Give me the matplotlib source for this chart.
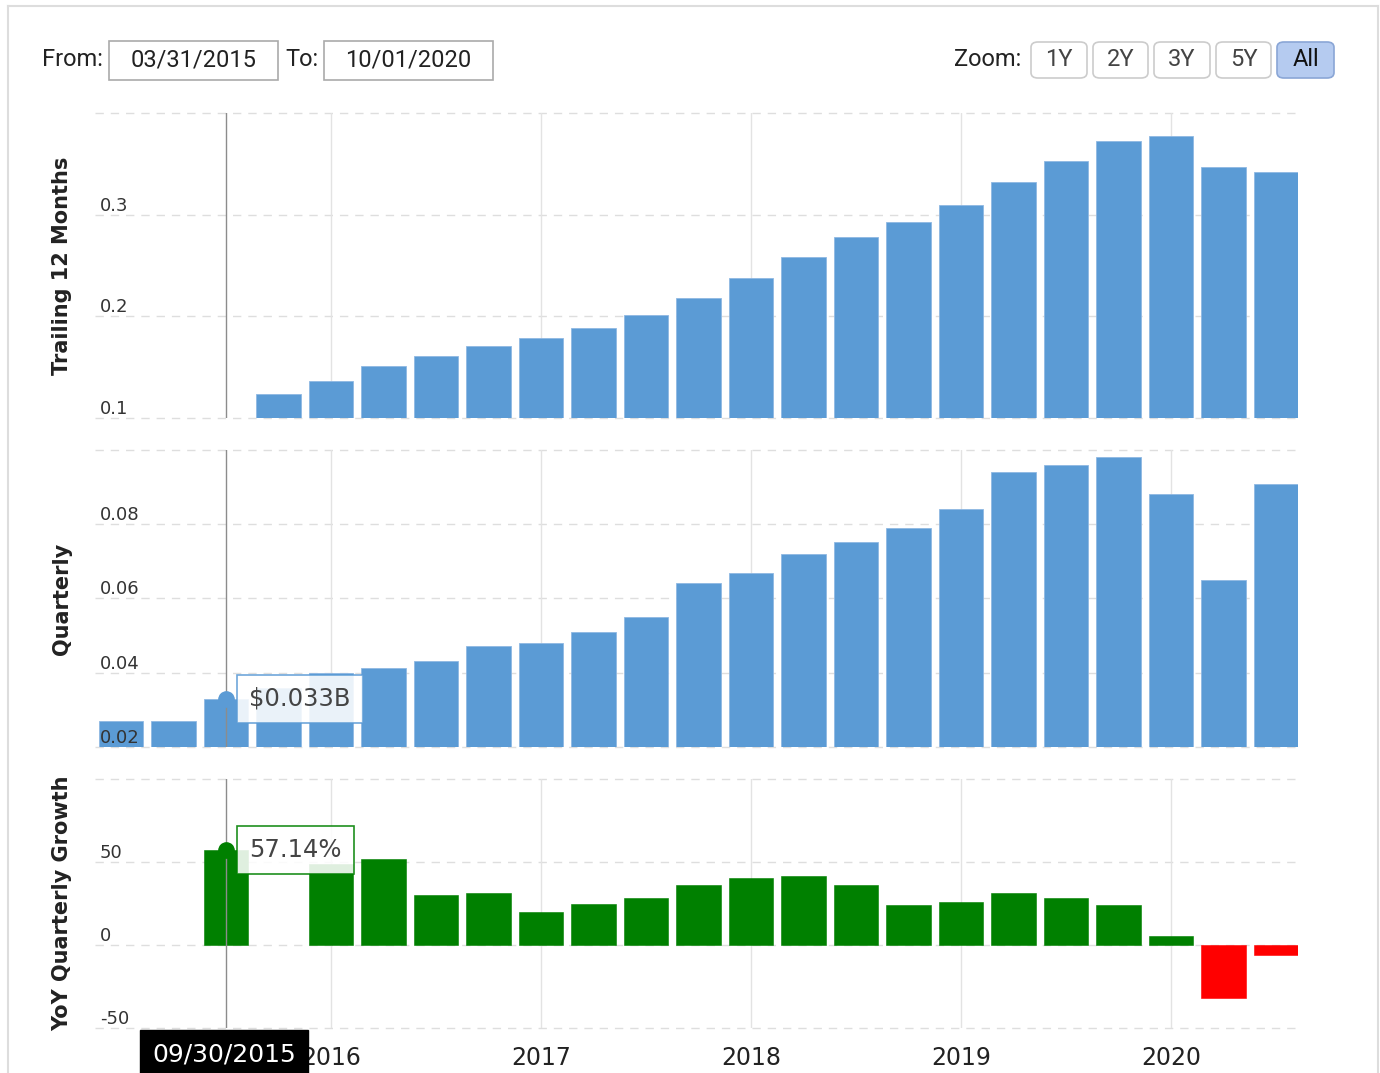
import matplotlib
matplotlib.use('Agg')
import matplotlib.pyplot as plt
from matplotlib.patches import Rectangle, FancyBboxPatch
from matplotlib.lines import Line2D
import matplotlib.transforms as mtransforms

# ---------------- data ----------------
quarters = ['03/31/2015', '06/30/2015', '09/30/2015', '12/31/2015',
            '03/31/2016', '06/30/2016', '09/30/2016', '12/31/2016',
            '03/31/2017', '06/30/2017', '09/30/2017', '12/31/2017',
            '03/31/2018', '06/30/2018', '09/30/2018', '12/31/2018',
            '03/31/2019', '06/30/2019', '09/30/2019', '12/31/2019',
            '03/31/2020', '06/30/2020', '09/30/2020']

ttm = [None, None, None, 0.124, 0.136, 0.151, 0.161, 0.171, 0.179, 0.189,
       0.201, 0.218, 0.238, 0.258, 0.278, 0.293, 0.310, 0.332, 0.353, 0.372,
       0.377, 0.347, 0.342]

quarterly = [0.0269, 0.0269, 0.033, 0.036, 0.0398, 0.0413, 0.0431, 0.0472,
             0.0481, 0.0509, 0.0550, 0.0642, 0.0670, 0.0720, 0.0753, 0.0789,
             0.0840, 0.0940, 0.0959, 0.0982, 0.0881, 0.0651, 0.0909]

yoy = [None, None, 57.14, None, 48.5, 52.0, 30.3, 31.3, 19.8, 24.8, 28.1,
       36.1, 40.4, 41.4, 36.1, 23.8, 25.8, 31.1, 28.1, 23.8, 5.2, -31.7, -5.9]

year_labels = ['2016', '2017', '2018', '2019', '2020']

ttm_ticks = [0.1, 0.2, 0.3, 0.4]
ttm_tick_labels = ['0.1', '0.2', '0.3', '']
q_ticks = [0.02, 0.04, 0.06, 0.08, 0.1]
q_tick_labels = ['0.02', '0.04', '0.06', '0.08', '']
yoy_ticks = [-50, 0, 50, 100]
yoy_tick_labels = ['-50', '0', '50', '']

hover_date = '09/30/2015'
from_date = '03/31/2015'
to_date = '10/01/2020'
zoom_buttons = ['1Y', '2Y', '3Y', '5Y', 'All']

# ---------------- style ----------------
W, H, DPI = 1380, 1073, 100
BLUE = '#5b9bd5'
GREEN = '#008000'
RED = '#ff0000'
GRID = '#dedede'
VGRID = '#e3e3e3'
CROSS = '#8c8c8c'
TXT = '#333333'
BAR_W = 0.84

fig = plt.figure(figsize=(W / DPI, H / DPI), dpi=DPI)
fig.patch.set_facecolor('white')


def fx(x):
    return x / W


def fy(y):
    return 1 - y / H


def add_axes_px(left, top, right, bottom):
    return fig.add_axes([fx(left), fy(bottom), fx(right) - fx(left), (bottom - top) / H])


x_idx = list(range(len(quarters)))
year_pos = [quarters.index('03/31/' + y) for y in year_labels]
hover_i = quarters.index(hover_date)

XMIN, XMAX = -0.495, 22.42

ax1 = add_axes_px(95, 113, 1298, 418)
ax2 = add_axes_px(95, 450, 1298, 747)
ax3 = add_axes_px(95, 779, 1298, 1028)


def style_axes(ax, ticks, labels, ylim, title):
    ax.set_xlim(XMIN, XMAX)
    ax.set_ylim(*ylim)
    for s in ax.spines.values():
        s.set_visible(False)
    ax.set_yticks([])
    ax.set_xticks([])
    for t in ticks:
        ax.axhline(t, color=GRID, lw=1.0, dashes=(6, 5), zorder=0.5, clip_on=False)
    for xp in year_pos:
        ax.axvline(xp, color=VGRID, lw=1.0, zorder=0.6)
    ax.axvline(hover_i, color=CROSS, lw=1.0, zorder=4)
    trans = mtransforms.blended_transform_factory(ax.transAxes, ax.transData)
    for t, lab in zip(ticks, labels):
        if lab:
            ax.annotate(lab, xy=(0.004, t), xycoords=trans, xytext=(0, 4),
                        textcoords='offset pixels', ha='left', va='baseline',
                        fontsize=13, color=TXT, family='DejaVu Sans', zorder=6,
                        annotation_clip=False)
    ax.text(-0.0275, 0.5, title, transform=ax.transAxes, rotation=90,
            ha='center', va='center', fontsize=15, fontweight='bold',
            color='#222222', family='DejaVu Sans')


style_axes(ax1, ttm_ticks, ttm_tick_labels, (0.1, 0.4), 'Trailing 12 Months')
style_axes(ax2, q_ticks, q_tick_labels, (0.02, 0.1), 'Quarterly')
style_axes(ax3, yoy_ticks, yoy_tick_labels, (-50, 100), 'YoY Quarterly Growth')

# bars
tx = [i for i, v in zip(x_idx, ttm) if v is not None]
tv = [v for v in ttm if v is not None]
ax1.bar(tx, tv, width=BAR_W, color=BLUE, edgecolor='#8fb8e3', linewidth=0.6, zorder=2)

ax2.bar(x_idx, quarterly, width=BAR_W, color=BLUE, edgecolor='#8fb8e3', linewidth=0.6, zorder=2)

yx = [i for i, v in zip(x_idx, yoy) if v is not None]
yv = [v for v in yoy if v is not None]
ycol = [GREEN if v >= 0 else RED for v in yv]
ax3.bar(yx, yv, width=BAR_W, color=ycol, edgecolor=ycol, linewidth=0.4, zorder=2)

# x tick labels (year)
ax3.set_xticks(year_pos)
ax3.set_xticklabels(year_labels, fontsize=17, color='#222222', family='DejaVu Sans')
ax3.tick_params(axis='x', length=0, pad=13)

# tooltips
ax2.plot([hover_i], [quarterly[hover_i]], 'o', ms=11, color=BLUE, zorder=7, clip_on=False)
ax2.annotate('$%.3fB' % quarterly[hover_i], xy=(hover_i, quarterly[hover_i]),
             xytext=(23, 0), textcoords='offset pixels', ha='left', va='center',
             fontsize=17.5, color='#444444', family='DejaVu Sans', zorder=8,
             bbox=dict(boxstyle='square,pad=0.5', fc='white', ec=BLUE, lw=1.2, alpha=0.88),
             annotation_clip=False)

ax3.plot([hover_i], [yoy[hover_i]], 'o', ms=11, color=GREEN, zorder=7, clip_on=False)
ax3.annotate('%.2f%%' % yoy[hover_i], xy=(hover_i, yoy[hover_i]),
             xytext=(23, 0), textcoords='offset pixels', ha='left', va='center',
             fontsize=17.5, color='#444444', family='DejaVu Sans', zorder=8,
             bbox=dict(boxstyle='square,pad=0.5', fc='white', ec=GREEN, lw=1.2, alpha=0.88),
             annotation_clip=False)

ax3.annotate(hover_date, xy=(hover_i, 0), xycoords=('data', 'axes fraction'),
             xytext=(-2, -26), textcoords='offset pixels', ha='center', va='center',
             fontsize=18, color='white', family='DejaVu Sans', zorder=9,
             bbox=dict(boxstyle='square,pad=0.5', fc='black', ec='black'),
             annotation_clip=False)

# ---------------- header ----------------
HF = 'Roboto'
fig.text(fx(42), fy(60), 'From:', ha='left', va='center', fontsize=17, family=HF, color='#222222')
fig.text(fx(285), fy(60), 'To:', ha='left', va='center', fontsize=17, family=HF, color='#222222')
for (l, r, txt) in [(109, 278, from_date), (324, 493, to_date)]:
    fig.patches.append(Rectangle((fx(l), fy(80)), fx(r) - fx(l), (80 - 41) / H,
                                 transform=fig.transFigure, fc='white', ec='#aaaaaa', lw=1.2))
    fig.text(fx((l + r) / 2), fy(60), txt, ha='center', va='center', fontsize=17,
             family=HF, color='#222222')

fig.text(fx(1021), fy(60), 'Zoom:', ha='right', va='center', fontsize=17, family=HF, color='#222222')
btn_l = [1031, 1093, 1154, 1216, 1277]
btn_r = [1087, 1148, 1210, 1271, 1334]
for l, r, txt in zip(btn_l, btn_r, zoom_buttons):
    active = (txt == 'All')
    fig.patches.append(FancyBboxPatch((fx(l), fy(78)), fx(r) - fx(l), (78 - 42) / H,
                                      boxstyle='round,pad=0,rounding_size=0.005',
                                      transform=fig.transFigure,
                                      fc='#b5cbf0' if active else 'white',
                                      ec='#8aa6d6' if active else '#cccccc', lw=1.2))
    fig.text(fx((l + r) / 2), fy(60), txt, ha='center', va='center', fontsize=17,
             family=HF, color='#111111' if active else '#444444')

# outer frame
for xs, ys in [([8, 8], [6, H]), ([8, 1378], [6, 6]), ([1378, 1378], [6, H])]:
    fig.lines.append(Line2D([fx(x) for x in xs], [fy(y) for y in ys],
                            transform=fig.transFigure, color='#dddddd', lw=1.5))

fig.savefig('out.png', dpi=DPI, facecolor='white')
